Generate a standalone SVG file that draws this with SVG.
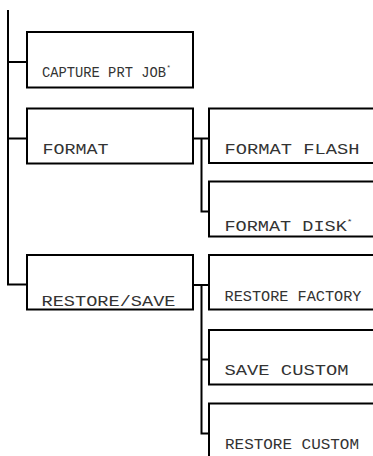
<svg xmlns="http://www.w3.org/2000/svg" width="373" height="456" viewBox="0 0 373 456">
<style>
.box{fill:#fff;stroke:#000;stroke-width:2}
.ln{fill:none;stroke:#000;stroke-width:2}
.t{font-family:"Liberation Mono","DejaVu Sans Mono",monospace;font-size:15.5px;fill:#333}
.ast{font-size:8px}
</style>
<rect width="373" height="456" fill="#fff"/>
<g id="connectors">
<polyline class="ln" points="8,10 8,284.5 27,284.5"/>
<line class="ln" x1="8" y1="62" x2="27" y2="62"/>
<line class="ln" x1="8" y1="138.5" x2="27" y2="138.5"/>
<line class="ln" x1="193" y1="138.5" x2="209" y2="138.5"/>
<polyline class="ln" points="201.5,138.5 201.5,211.5 209,211.5"/>
<line class="ln" x1="193" y1="285" x2="209" y2="285"/>
<polyline class="ln" points="201.5,285 201.5,433.5 209,433.5"/>
<line class="ln" x1="201.5" y1="359.5" x2="209" y2="359.5"/>
</g>
<g id="capture">
<rect class="box" x="27" y="32" width="166" height="55.5"/>
<text class="t" transform="translate(42,77.3) scale(0.889,1)" x="0" y="0">CAPTURE PRT JOB<tspan class="ast" dx="0.5" dy="-7">*</tspan></text>
</g>
<g id="format">
<rect class="box" x="27" y="108.5" width="166" height="55"/>
<text class="t" x="42.5" y="154" textLength="66" lengthAdjust="spacingAndGlyphs">FORMAT</text>
</g>
<g id="format-flash">
<rect class="box" x="209" y="108.5" width="170" height="54.5"/>
<text class="t" x="224.5" y="153.5" textLength="135" lengthAdjust="spacingAndGlyphs">FORMAT FLASH</text>
</g>
<g id="format-disk">
<rect class="box" x="209" y="181.5" width="170" height="55"/>
<text class="t" transform="translate(224.5,230.7) scale(1.197,1)" x="0" y="0">FORMAT DISK<tspan class="ast" dy="-7">*</tspan></text>
</g>
<g id="restore-save">
<rect class="box" x="27" y="255" width="166" height="54.5"/>
<text class="t" x="41.5" y="305.5" textLength="134" lengthAdjust="spacingAndGlyphs">RESTORE/SAVE</text>
</g>
<g id="restore-factory">
<rect class="box" x="209" y="255" width="170" height="54.5"/>
<text class="t" x="224.5" y="301" textLength="137" lengthAdjust="spacingAndGlyphs">RESTORE FACTORY</text>
</g>
<g id="save-custom">
<rect class="box" x="209" y="330" width="170" height="54.5"/>
<text class="t" x="224.5" y="375" textLength="124" lengthAdjust="spacingAndGlyphs">SAVE CUSTOM</text>
</g>
<g id="restore-custom">
<rect class="box" x="209" y="403.5" width="170" height="60"/>
<text class="t" x="225" y="449.3" textLength="134" lengthAdjust="spacingAndGlyphs">RESTORE CUSTOM</text>
</g>
</svg>
